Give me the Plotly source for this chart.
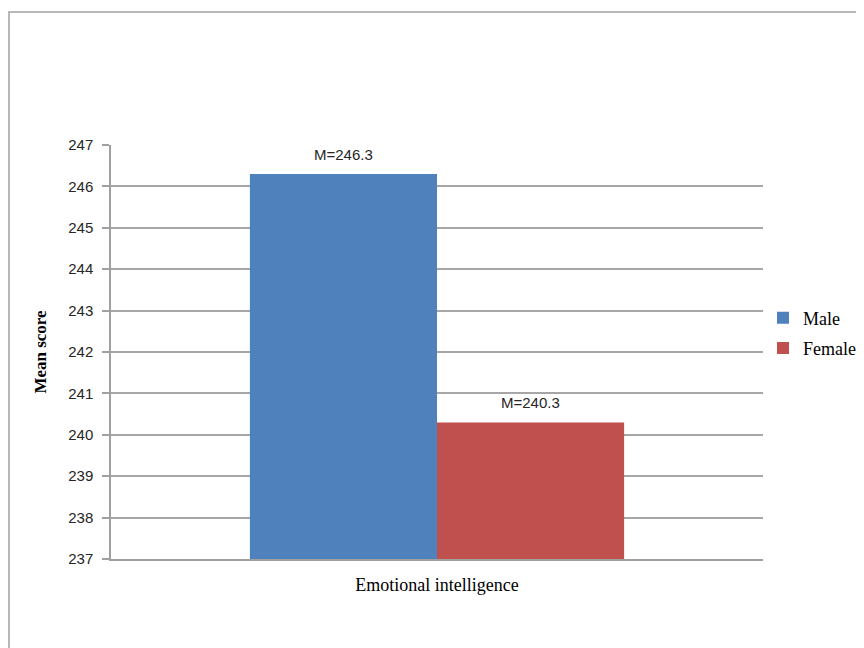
import plotly.graph_objects as go

categories = ["Emotional intelligence"]
series_names = ["Male", "Female"]
male_values = [246.3]
female_values = [240.3]
colors = ["#4F81BD", "#C0504D"]
y_ticks = list(range(237, 248))

BARGAP = 0.426
ML, MR, MT, MB = 103, 101, 137, 89
W, H = 856, 640
plot_w = W - ML - MR
plot_h = H - MT - MB

fig = go.Figure()
for name, vals, col in zip(series_names, [male_values, female_values], colors):
    fig.add_trace(go.Bar(x=categories, y=vals, name=name, marker=dict(color=col, line=dict(width=0)),
                         legendgroup=name, hoverinfo="skip"))

# data labels
bar_px = plot_w * (1 - BARGAP) / 2
for i, vals in enumerate([male_values, female_values]):
    for c, v in zip(categories, vals):
        fig.add_annotation(x=c, y=v, xref="x", yref="y", text=f"M={v}", showarrow=False,
                           yanchor="bottom", yshift=9, xshift=(i - 0.5) * bar_px,
                           font=dict(family="Liberation Sans", size=15, color="#262626"))

# outer chart border (page has 8px offset)
fig.add_shape(type="rect", xref="paper", yref="paper",
              x0=-(ML - 1) / plot_w, y0=-1, x1=2, y1=1 + (MT - 4) / plot_h,
              line=dict(color="#A0A0A0", width=1.5), fillcolor="rgba(0,0,0,0)", layer="below")

fig.update_layout(
    width=W, height=H,
    margin=dict(l=ML, r=MR, t=MT, b=MB, autoexpand=False),
    paper_bgcolor="white", plot_bgcolor="white",
    barmode="group", bargap=BARGAP, bargroupgap=0,
    showlegend=True,
    legend=dict(x=(763 - 111) / plot_w, y=0.546, xanchor="left", yanchor="middle", tracegroupgap=4,
                font=dict(family="Liberation Serif", size=18, color="#000"),
                bgcolor="rgba(0,0,0,0)", itemwidth=30),
    xaxis=dict(showline=True, linecolor="#A0A0A0", linewidth=1.5, ticks="",
               tickfont=dict(family="Liberation Serif", size=18, color="#000"),
               ticklabelstandoff=9, showgrid=False),
    yaxis=dict(range=[237, 247], tickvals=y_ticks, showline=True, linecolor="#A0A0A0", linewidth=1.5,
               ticks="outside", ticklen=7, tickcolor="#A0A0A0", tickwidth=1.5,
               showgrid=True, gridcolor="#A6A6A6", gridwidth=1.5, zeroline=False,
               tickfont=dict(family="Liberation Sans", size=15, color="#262626"),
               ticklabelstandoff=6,
               title=dict(text="<b>Mean score</b>", standoff=17,
                          font=dict(family="Liberation Serif", size=17, color="#000"))),
)

fig.write_html("out.html")
